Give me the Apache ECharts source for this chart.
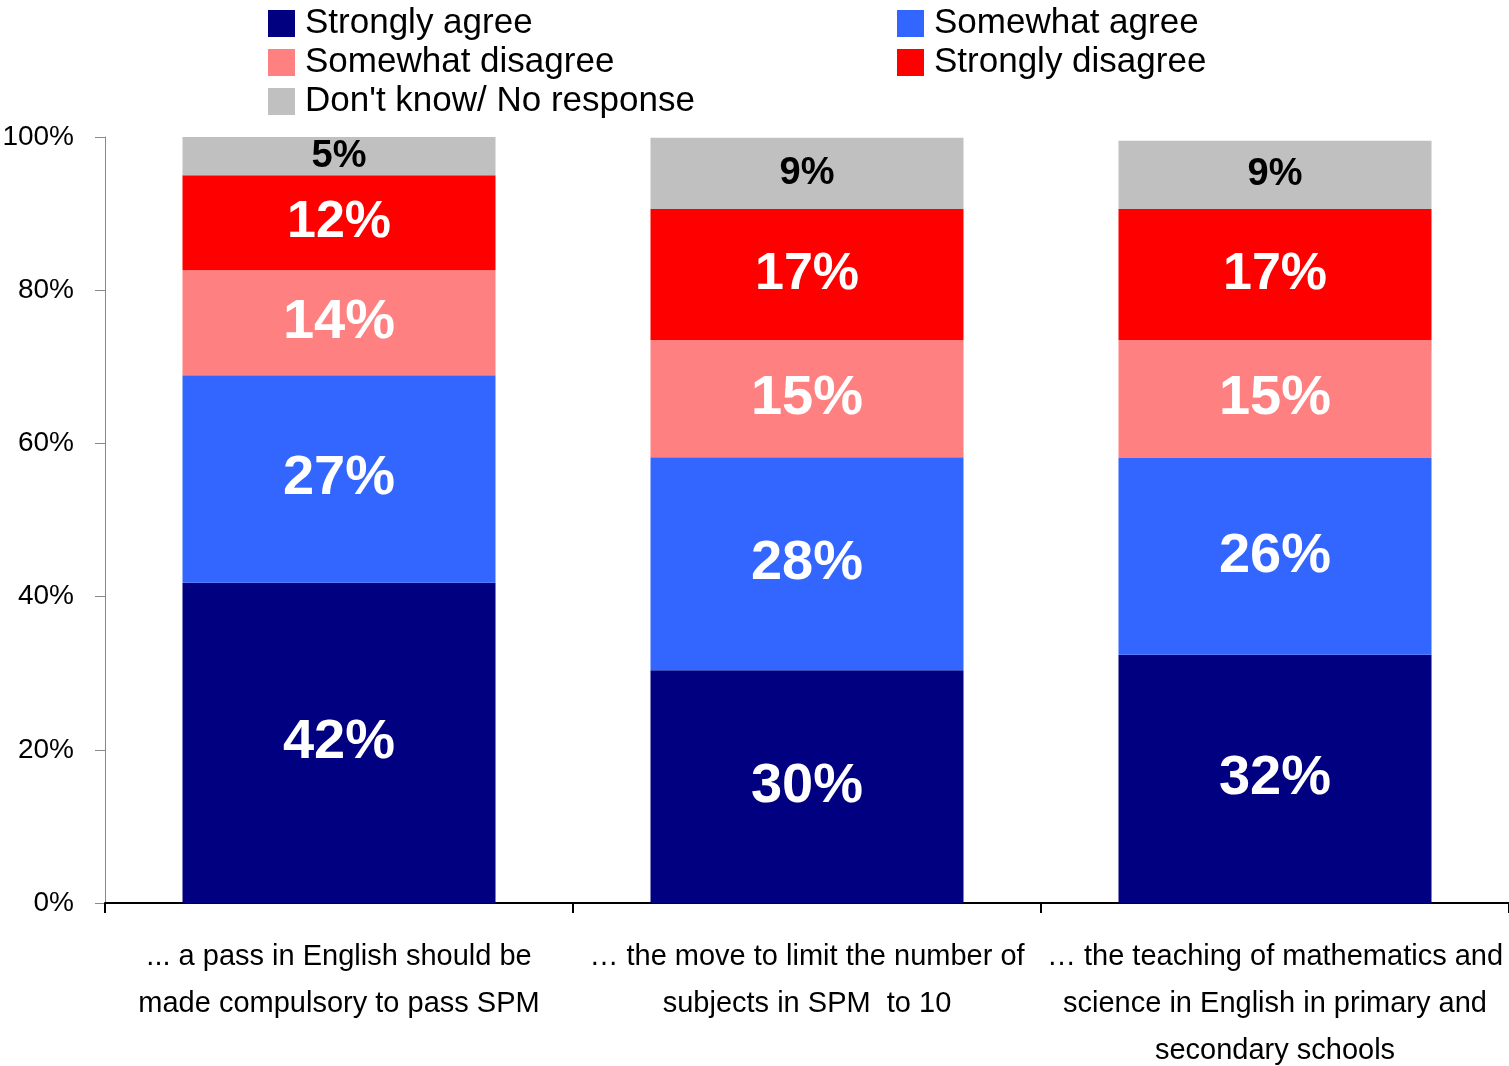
<!DOCTYPE html>
<html lang="en">
<head>
    <meta charset="UTF-8">
    <title>Survey chart</title>
    <style>
        html, body { margin: 0; padding: 0; background: #fff; }
        #chart { width: 1509px; height: 1066px; }
    </style>
</head>
<body>
    <div id="chart"></div>
</body>
<script src="https://cdn.jsdelivr.net/npm/echarts@6/dist/echarts.min.js"></script>
<script>
    // categories and stacked shares (percent)
    const categories = [
        '... a pass in English should be\nmade compulsory to pass SPM',
        '… the move to limit the number of\nsubjects in SPM  to 10',
        '… the teaching of mathematics and\nscience in English in primary and\nsecondary schools'
    ]
    const stronglyAgree = [41.8, 30.4, 32.4]
    const somewhatAgree = [27.1, 27.8, 25.7]
    const somewhatDisagree = [13.7, 15.3, 15.4]
    const stronglyDisagree = [12.4, 17.1, 17.1]
    const dontKnow = [5.0, 9.3, 8.9]
    const yTicks = [0, 20, 40, 60, 80, 100]

    const font = '"Liberation Sans", Arial, sans-serif'

    const chart = echarts.init(document.getElementById('chart'))

    function seriesOf(name, data, color, labelColor, fontSize) {
        return {
            name: name,
            type: 'bar',
            stack: 'total',
            data: data,
            barWidth: 313,
            itemStyle: { color: color },
            label: {
                show: true,
                position: 'inside',
                color: labelColor,
                fontFamily: font,
                fontWeight: 'bold',
                fontSize: fontSize,
                formatter: p => Math.round(p.value) + '%'
            }
        }
    }

    const legendText = { fontFamily: font, fontSize: 35, color: '#000', padding: [0, 0, 0, 5] }

    const option = {
        animation: false,
        legend: [{
            left: 268,
            top: 6,
            orient: 'vertical',
            icon: 'rect',
            itemWidth: 27,
            itemHeight: 27,
            itemGap: 4,
            padding: 0,
            textStyle: legendText,
            data: ['Strongly agree', 'Somewhat disagree', "Don't know/ No response"]
        }, {
            left: 897,
            top: 6,
            orient: 'vertical',
            icon: 'rect',
            itemWidth: 27,
            itemHeight: 27,
            itemGap: 4,
            padding: 0,
            textStyle: legendText,
            data: ['Somewhat agree', 'Strongly disagree']
        }],
        grid: { left: 105, right: 0, top: 137, bottom: 163, containLabel: false, outerBoundsMode: 'none' },
        xAxis: {
            type: 'category',
            data: categories,
            axisLine: { lineStyle: { color: '#000', width: 2 } },
            axisTick: { show: true, length: 10, lineStyle: { color: '#000', width: 2 } },
            axisLabel: {
                interval: 0,
                margin: 30,
                fontFamily: font,
                fontSize: 29,
                lineHeight: 47,
                color: '#000'
            }
        },
        yAxis: {
            type: 'value',
            min: yTicks[0],
            max: yTicks[yTicks.length - 1],
            interval: 20,
            splitLine: { show: false },
            axisLine: { show: true, lineStyle: { color: '#888', width: 1 } },
            axisTick: { show: true, length: 10, lineStyle: { color: '#888' } },
            axisLabel: {
                margin: 31,
                fontFamily: font,
                fontSize: 28,
                color: '#000',
                formatter: '{value}%'
            }
        },
        series: [
            seriesOf('Strongly agree', stronglyAgree, '#000080', '#fff', 56),
            seriesOf('Somewhat agree', somewhatAgree, '#3366FF', '#fff', 56),
            seriesOf('Somewhat disagree', somewhatDisagree, '#FF8080', '#fff', 56),
            seriesOf('Strongly disagree', stronglyDisagree, '#FF0000', '#fff', 52),
            seriesOf("Don't know/ No response", dontKnow, '#C0C0C0', '#000', 38)
        ]
    }

    chart.setOption(option)
</script>
</html>
